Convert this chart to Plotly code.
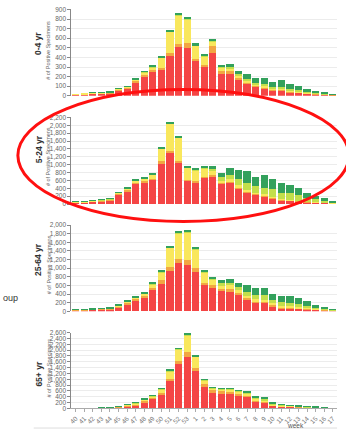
import plotly.graph_objects as go

weeks = ["40","41","42","43","44","45","46","47","48","49","50","51","52","53",
         "1","2","3","4","5","6","7","8","9","10","11","12","13","14","15","16","17"]

series_names = ["A (H3N2)", "A (H1N1)pdm09", "A (subtyping not performed)", "B (Victoria)", "B (Yamagata)"]
colors = ["#f44545", "#f2a642", "#f9e75c", "#c2df4b", "#33a15c"]

age_groups = ["0-4 yr", "5-24 yr", "25-64 yr", "65+ yr"]

# 0-4 yr
g1_red    = [7,9,15,16,22,55,68,137,195,245,273,416,509,496,359,297,451,232,222,164,120,89,75,55,51,34,27,17,14,7,3]
g1_orange = [4,5,7,8,6,10,10,16,27,20,17,28,31,51,23,28,68,31,34,24,17,13,10,6,10,7,7,3,3,2,1]
g1_yellow = [3,3,3,4,3,4,10,12,18,25,102,222,294,246,137,85,44,27,27,17,17,14,14,11,14,10,7,7,3,2,1]
g1_lgreen = [0,0,1,1,2,1,1,5,4,8,3,4,5,4,3,4,5,8,17,17,24,21,24,24,21,24,17,17,11,6,2]
g1_dgreen = [0,0,1,1,4,2,1,8,6,9,8,10,18,16,25,20,19,23,28,38,54,51,62,44,64,51,48,24,17,14,3]

# 5-24 yr
g2_red    = [25,25,45,65,90,225,317,508,542,617,1017,1300,1042,575,542,658,683,500,525,383,275,225,192,125,75,67,50,33,25,17,8]
g2_orange = [8,8,10,12,12,25,33,34,33,25,66,58,41,33,50,34,42,42,33,34,33,25,25,25,17,16,17,9,8,8,4]
g2_yellow = [10,10,12,13,13,25,25,41,50,91,309,667,584,300,241,200,125,41,67,58,42,25,25,25,25,17,16,16,17,8,4]
g2_lgreen = [4,4,4,5,5,5,8,15,12,15,18,17,16,17,25,33,42,100,108,167,175,183,175,200,175,175,142,92,67,34,8]
g2_dgreen = [3,3,4,5,5,12,17,35,30,35,40,50,50,42,42,50,66,117,175,216,325,225,325,258,250,200,175,125,91,83,18]

# 25-64 yr
g3_red    = [20,25,30,40,45,91,152,243,319,494,623,927,1117,1079,904,600,555,464,456,372,258,198,190,114,68,61,53,38,30,23,12]
g3_orange = [8,10,10,12,14,23,53,53,53,53,91,99,107,114,92,61,45,60,68,61,54,38,30,30,23,23,15,15,8,7,4]
g3_yellow = [5,6,7,8,9,15,15,23,31,76,190,448,577,623,440,243,137,61,76,61,45,45,38,38,38,30,31,23,15,8,6]
g3_lgreen = [2,2,3,4,4,5,8,8,15,15,15,15,15,23,23,23,31,61,61,76,99,91,114,76,76,76,76,53,31,15,8]
g3_dgreen = [3,3,3,4,4,10,15,15,23,23,23,23,23,38,31,38,38,76,76,91,144,160,160,152,145,175,129,114,68,38,16]

# 65+ yr
g4_red    = [10,10,10,22,16,50,90,124,214,338,484,935,1520,1768,1272,732,563,518,518,450,405,248,214,101,79,68,56,34,28,14,8]
g4_orange = [6,6,6,12,10,15,23,34,56,45,56,78,113,169,113,90,68,68,68,68,57,45,34,23,15,12,10,10,8,4,3]
g4_yellow = [4,4,4,8,6,8,20,34,45,45,136,282,405,585,394,158,78,78,67,68,67,56,45,34,22,18,15,15,12,6,4]
g4_lgreen = [1,1,1,1,1,2,5,10,12,10,12,20,20,20,20,15,14,20,25,25,35,34,45,23,15,13,10,10,10,5,3]
g4_dgreen = [1,1,1,2,1,4,8,12,22,12,21,25,25,25,25,18,20,25,31,31,44,34,34,22,15,13,10,10,10,5,4]

groups = [
    [g1_red, g1_orange, g1_yellow, g1_lgreen, g1_dgreen],
    [g2_red, g2_orange, g2_yellow, g2_lgreen, g2_dgreen],
    [g3_red, g3_orange, g3_yellow, g3_lgreen, g3_dgreen],
    [g4_red, g4_orange, g4_yellow, g4_lgreen, g4_dgreen],
]
y_max = [900, 2200, 2000, 2600]
y_dtick = [100, 200, 200, 200]

W, H = 346, 433
def px(p):
    return p / W
def py(p):
    return 1 - p / H

# panel pixel positions (top, bottom)
panel_px = [(5.5, 93.3), (115.3, 203.3), (224.7, 312.3), (334, 411)]
title_y = [40, 148, 259.5, 376]
sub_y = [47, 155, 265, 370]

fig = go.Figure()
FONT = "Liberation Sans, Arial, sans-serif"

for gi, grp in enumerate(groups):
    xa = "x" if gi == 0 else f"x{gi+1}"
    ya = "y" if gi == 0 else f"y{gi+1}"
    for si, vals in enumerate(grp):
        fig.add_trace(go.Bar(
            x=weeks, y=vals, name=series_names[si],
            marker=dict(color=colors[si], line=dict(width=0)),
            xaxis=xa, yaxis=ya, showlegend=False,
        ))

layout = dict(
    width=W, height=H, autosize=False,
    margin=dict(l=0, r=0, t=0, b=0),
    paper_bgcolor="white", plot_bgcolor="white",
    barmode="stack", bargap=0.16,
    font=dict(family=FONT, size=7, color="#666"),
    showlegend=False,
)

for gi in range(4):
    top, bot = panel_px[gi]
    xk = "xaxis" if gi == 0 else f"xaxis{gi+1}"
    yk = "yaxis" if gi == 0 else f"yaxis{gi+1}"
    ya = "y" if gi == 0 else f"y{gi+1}"
    xa = "x" if gi == 0 else f"x{gi+1}"
    last = gi == 3
    layout[xk] = dict(
        domain=[px(69), px(337)], anchor=ya, type="category",
        categoryorder="array", categoryarray=weeks,
        showgrid=False, zeroline=False,
        showline=last, linecolor="#aaa", linewidth=1,
        ticks="outside" if last else "", ticklen=3, tickcolor="#aaa",
        showticklabels=last, tickangle=-45,
        tickfont=dict(size=6.5, color="#777", family=FONT),
    )
    layout[yk] = dict(
        domain=[py(bot), py(top)], anchor=xa,
        range=[0, y_max[gi]], dtick=y_dtick[gi], tickformat=",",
        showgrid=True, gridcolor="#ececec", gridwidth=1,
        zeroline=False, showline=True, linecolor="#888", linewidth=1,
        ticks="outside", ticklen=3, tickcolor="#888",
        tickfont=dict(size=6.5, color="#666", family=FONT),
    )

annotations = []
for gi in range(4):
    annotations.append(dict(
        text=f"<b>{age_groups[gi]}</b>", xref="paper", yref="paper",
        x=px(36), y=py(title_y[gi]), showarrow=False, textangle=-90,
        font=dict(size=8.5, color="#333", family=FONT),
        xanchor="center", yanchor="middle",
    ))
    annotations.append(dict(
        text="# of Positive Specimens", xref="paper", yref="paper",
        x=px(46), y=py(sub_y[gi]), showarrow=False, textangle=-90,
        font=dict(size=5.5, color="#666", family=FONT),
        xanchor="center", yanchor="middle",
    ))
annotations.append(dict(
    text="week", xref="paper", yref="paper", x=px(295), y=py(428.5),
    showarrow=False, font=dict(size=6.5, color="#555", family=FONT),
    xanchor="center", yanchor="middle",
))
annotations.append(dict(
    text="oup", xref="paper", yref="paper", x=px(-2.5), y=py(299),
    showarrow=False, font=dict(size=9, color="#333", family=FONT),
    xanchor="left", yanchor="middle",
))
layout["annotations"] = annotations

layout["shapes"] = [
    dict(type="line", xref="paper", yref="paper", x0=px(31), x1=px(337),
         y0=py(431), y1=py(431), line=dict(color="#dddddd", width=1)),
    dict(type="circle", xref="paper", yref="paper",
         x0=px(15), x1=px(349), y0=py(221), y1=py(87),
         line=dict(color="#ff1010", width=3)),
]

fig.update_layout(**layout)
fig.write_html("out.html")
